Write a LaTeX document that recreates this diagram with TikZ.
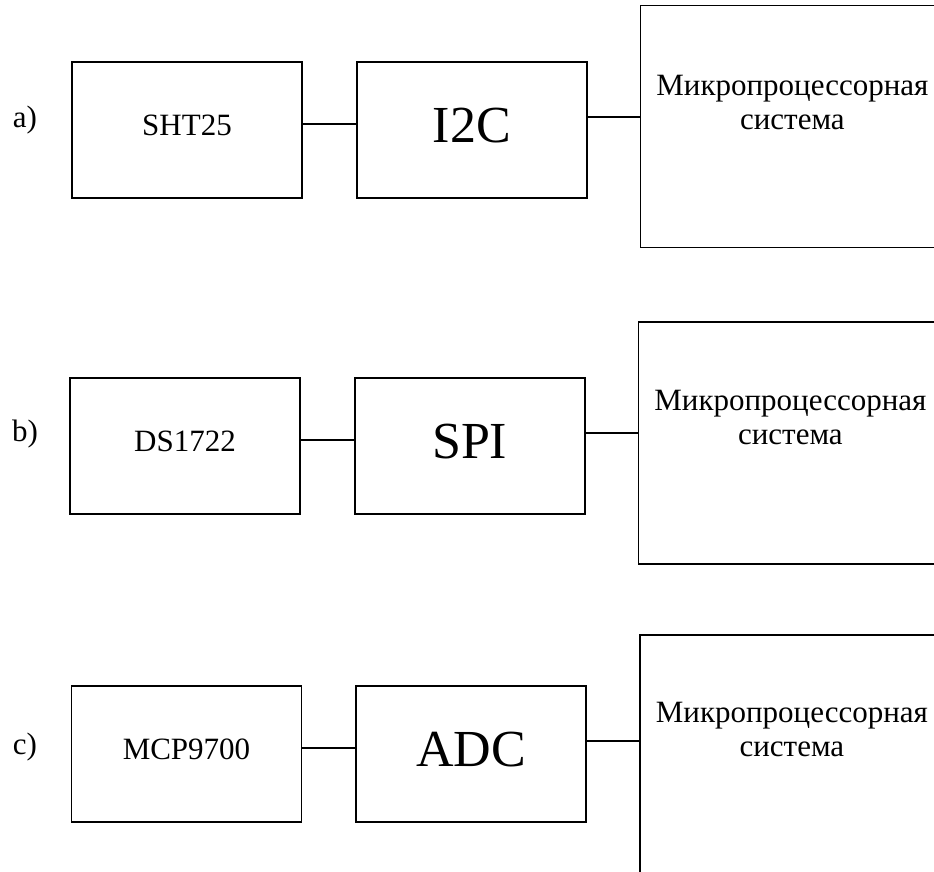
\documentclass[tikz,border=0pt]{standalone}
\usepackage{fontspec}
\setmainfont{Liberation Serif}
\usetikzlibrary{positioning}

\begin{document}
\begin{tikzpicture}[
  x=1pt, y=-1pt,
  every node/.style={inner sep=0pt},
  blk/.style={draw, line width=1.7pt, minimum width=230pt, minimum height=136pt,
              text height=21pt, text depth=10pt, font=\fontsize{31}{38}\selectfont},
  bus/.style={blk, text height=35pt, font=\fontsize{52}{60}\selectfont},
  mcu/.style={draw, line width=1.7pt, minimum width=304pt, minimum height=242pt},
  mcutxt/.style={align=center, font=\fontsize{31}{34}\selectfont},
  lbl/.style={font=\fontsize{31}{38}\selectfont},
  wire/.style={line width=1.7pt}
]
\clip (0,0) rectangle (934,872);

% Row a
\node[lbl] (lab_a) at (25,120) {a)};
\node[blk] (sens_a) at (187,130) {SHT25};
\node[bus, right=53pt of sens_a] (bus_a) {I2C};
\node[mcu, right=52pt of bus_a, yshift=3.5pt] (mcu_a) {};
\node[mcutxt] (mtx_a) at ([yshift=-97.5pt]mcu_a.north) {Микропроцессорная\\система};
\draw[wire] ([yshift=6pt]sens_a.east) -- ([yshift=6pt]sens_a.east -| bus_a.west);
\draw[wire] ([yshift=13pt]bus_a.east) -- ([yshift=13pt]bus_a.east -| mcu_a.west);

% Row b
\node[lbl] (lab_b) at (25,434) {b)};
\node[blk] (sens_b) at (185,446) {DS1722};
\node[bus, right=53pt of sens_b] (bus_b) {SPI};
\node[mcu, right=52pt of bus_b, yshift=3pt] (mcu_b) {};
\node[mcutxt] (mtx_b) at ([yshift=-96.5pt]mcu_b.north) {Микропроцессорная\\система};
\draw[wire] ([yshift=6pt]sens_b.east) -- ([yshift=6pt]sens_b.east -| bus_b.west);
\draw[wire] ([yshift=13pt]bus_b.east) -- ([yshift=13pt]bus_b.east -| mcu_b.west);

% Row c
\node[lbl] (lab_c) at (25,747) {c)};
\node[blk] (sens_c) at (186.5,754) {MCP9700};
\node[bus, right=53pt of sens_c] (bus_c) {ADC};
\node[mcu, right=52pt of bus_c, yshift=-2pt] (mcu_c) {};
\node[mcutxt] (mtx_c) at ([yshift=-95.5pt]mcu_c.north) {Микропроцессорная\\система};
\draw[wire] ([yshift=6pt]sens_c.east) -- ([yshift=6pt]sens_c.east -| bus_c.west);
\draw[wire] ([yshift=13pt]bus_c.east) -- ([yshift=13pt]bus_c.east -| mcu_c.west);

\end{tikzpicture}
\end{document}
